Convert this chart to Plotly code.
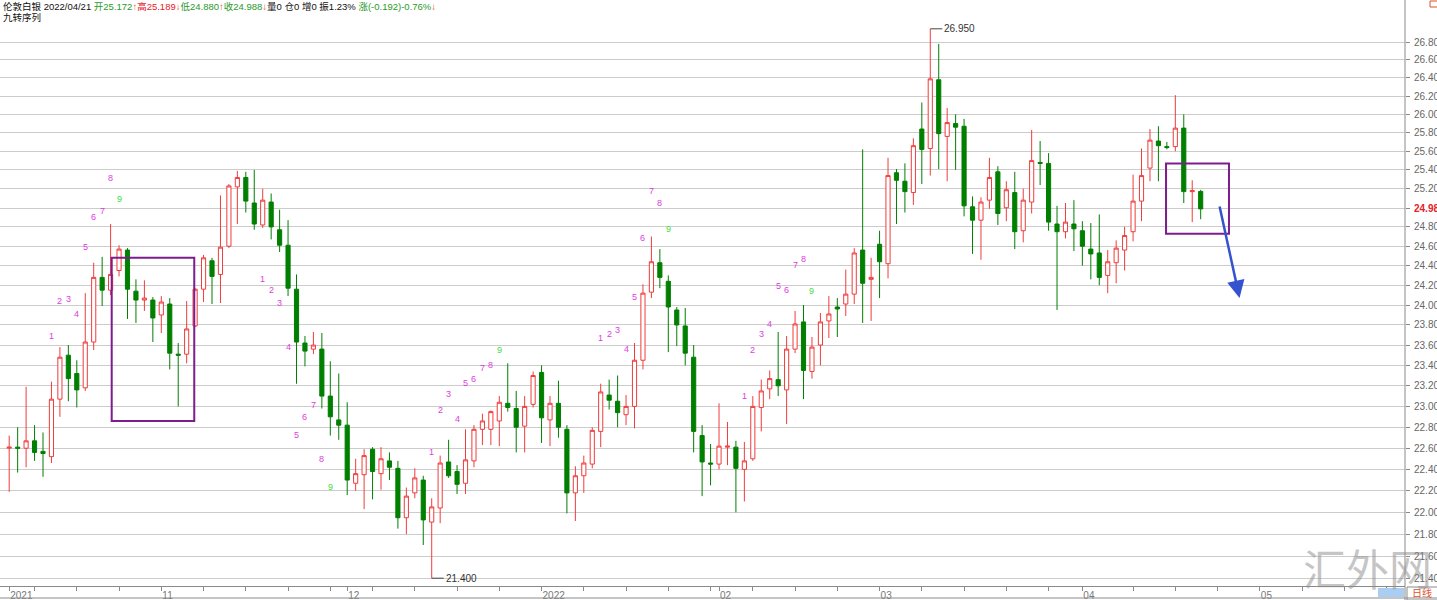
"""London silver daily candles with TD sequential (九转序列) counts."""

import math

import plotly.graph_objects as go

# daily bars, 2021-10 .. 2022-04-21
opens = [
    22.60, 22.61, 22.60, 22.67, 22.57, 22.52, 23.07, 23.50, 23.32, 23.18,
    23.63, 24.28, 24.15, 24.35, 24.56, 24.14, 24.05, 24.05, 23.90, 24.01,
    23.51, 23.51, 23.79, 24.16, 24.45, 24.31, 24.60, 25.22, 25.32, 25.05,
    24.82, 25.06, 24.77, 24.61, 24.16, 23.62, 23.56, 23.56, 23.10, 22.87,
    22.82, 22.27, 22.35, 22.59, 22.36, 22.48, 22.41, 21.95, 22.18, 22.30,
    21.91, 22.04, 22.47, 22.38, 22.27, 22.48, 22.78, 22.78, 22.86, 23.03,
    22.98, 22.81, 23.02, 23.33, 22.87, 23.03, 22.78, 22.18, 22.34, 22.45,
    22.76, 23.11, 23.05, 22.92, 23.00, 23.45, 24.13, 24.43, 24.24, 23.95,
    23.79, 23.48, 22.72, 22.46, 22.45, 22.61, 22.61, 22.40, 22.50, 22.99,
    23.17, 23.26, 23.16, 23.56, 23.83, 23.34, 23.60, 23.84, 23.98, 24.01,
    24.11, 24.56, 24.26, 24.62, 24.42, 25.37, 25.28, 25.16, 25.84, 25.63,
    26.38, 25.76, 25.90, 25.87, 25.01, 24.87, 25.08, 25.38, 25.00, 25.16,
    24.76, 25.06, 25.48, 25.47, 24.83, 24.75, 24.83, 24.76, 24.57, 24.53,
    24.30, 24.43, 24.56, 24.75, 25.07, 25.42, 25.71, 25.65, 25.65, 25.85,
    25.17, 25.172,
]
highs = [
    22.72, 22.80, 23.19, 22.82, 22.75, 23.24, 23.58, 23.60, 23.45, 24.12,
    24.43, 24.49, 24.83, 24.61, 24.58, 24.26, 24.25, 24.08, 24.09, 24.07,
    23.62, 24.04, 24.17, 24.51, 24.48, 25.13, 25.25, 25.39, 25.38, 25.40,
    25.20, 25.15, 24.98, 24.87, 24.31, 23.69, 23.73, 23.72, 23.44, 23.32,
    23.04, 22.50, 22.59, 22.61, 22.61, 22.56, 22.48, 22.23, 22.41, 22.34,
    22.13, 22.53, 22.68, 22.44, 22.78, 22.82, 22.93, 22.96, 23.10, 23.42,
    23.15, 23.10, 23.34, 23.40, 23.10, 23.25, 22.82, 22.43, 22.53, 22.80,
    23.22, 23.26, 23.30, 23.11, 23.62, 24.21, 24.70, 24.57, 24.30, 23.98,
    23.97, 23.60, 22.82, 22.64, 23.03, 22.85, 22.67, 22.66, 23.10, 23.26,
    23.35, 23.73, 23.69, 23.94, 24.00, 23.68, 23.92, 24.09, 24.07, 24.36,
    24.58, 25.62, 24.48, 24.76, 25.53, 25.41, 25.47, 25.74, 26.13, 26.95,
    26.78, 26.07, 26.00, 25.95, 25.12, 25.11, 25.53, 25.44, 25.28, 25.38,
    25.20, 25.83, 25.71, 25.58, 25.02, 25.05, 25.08, 24.86, 24.84, 24.93,
    24.56, 24.66, 24.80, 25.35, 25.63, 25.84, 25.87, 25.70, 26.21, 26.00,
    25.29, 25.189,
]
lows = [
    22.19, 22.37, 22.42, 22.48, 22.33, 22.46, 22.90, 23.05, 22.99, 23.15,
    23.55, 23.99, 24.10, 24.29, 23.86, 23.82, 23.94, 23.63, 23.72, 23.36,
    23.00, 23.42, 23.78, 24.03, 24.01, 24.02, 24.58, 24.83, 24.95, 24.77,
    24.79, 24.67, 24.54, 24.09, 23.22, 23.39, 23.51, 22.98, 22.72, 22.68,
    22.16, 22.20, 22.03, 22.12, 22.21, 22.30, 21.85, 21.80, 22.13, 21.70,
    21.40, 21.90, 22.32, 22.17, 22.17, 22.42, 22.63, 22.63, 22.62, 22.95,
    22.56, 22.56, 22.99, 22.65, 22.62, 22.70, 21.99, 21.92, 22.18, 22.41,
    22.61, 22.97, 22.80, 22.82, 22.79, 23.36, 24.07, 24.17, 23.53, 23.59,
    23.40, 22.56, 22.15, 22.25, 22.40, 22.44, 22.00, 22.10, 22.48, 22.76,
    23.07, 23.10, 22.83, 23.52, 23.07, 23.27, 23.40, 23.67, 23.68, 23.89,
    24.01, 23.82, 23.84, 24.07, 24.27, 24.83, 24.95, 25.03, 25.25, 25.34,
    25.41, 25.28, 25.40, 24.91, 24.52, 24.46, 24.99, 24.82, 24.86, 24.57,
    24.64, 24.94, 25.24, 24.76, 23.95, 24.68, 24.55, 24.40, 24.26, 24.20,
    24.12, 24.22, 24.35, 24.65, 24.86, 25.28, 25.28, 25.62, 25.60, 25.05,
    24.85, 24.880,
]
closes = [
    22.61, 22.60, 22.67, 22.56, 22.55, 23.07, 23.48, 23.27, 23.16, 23.63,
    24.28, 24.15, 24.31, 24.57, 24.16, 24.05, 24.07, 23.87, 24.03, 23.52,
    23.50, 23.76, 24.16, 24.48, 24.29, 24.59, 25.23, 25.32, 25.07, 24.83,
    25.08, 24.80, 24.61, 24.17, 23.63, 23.54, 23.60, 23.10, 22.90, 22.82,
    22.30, 22.36, 22.53, 22.38, 22.50, 22.42, 21.95, 22.15, 22.32, 21.93,
    22.05, 22.46, 22.34, 22.26, 22.49, 22.78, 22.86, 22.95, 23.04, 22.99,
    22.80, 23.00, 23.30, 22.89, 23.03, 22.80, 22.18, 22.34, 22.46, 22.77,
    23.14, 23.06, 22.94, 23.00, 23.45, 24.12, 24.44, 24.28, 23.98, 23.80,
    23.52, 22.76, 22.47, 22.45, 22.62, 22.62, 22.41, 22.48, 23.00, 23.15,
    23.27, 23.20, 23.56, 23.81, 23.35, 23.58, 23.83, 23.91, 23.96, 24.11,
    24.53, 24.22, 24.28, 24.44, 25.34, 25.29, 25.17, 25.66, 25.62, 26.39,
    25.79, 25.91, 25.86, 25.02, 24.87, 25.06, 25.32, 24.94, 25.19, 24.75,
    25.08, 25.50, 25.47, 24.85, 24.75, 24.85, 24.78, 24.60, 24.52, 24.28,
    24.44, 24.58, 24.71, 25.07, 25.34, 25.72, 25.66, 25.64, 25.85, 25.17,
    25.18, 24.988,
]

# bottom axis: month starts and weekly marks (bar index)
month_ticks = [0, 18, 40, 63, 84, 103, 127, 148]
month_labels = ["2021", "11", "12", "2022", "02", "03", "04", "05"]
week_ticks = [3, 8, 13, 23, 28, 33, 38, 43, 48, 53, 58, 68, 73, 78, 83, 88,
              93, 98, 108, 113, 118, 123, 133, 138, 143, 153, 158, 163]

# right axis
price_ticks = [21.4, 21.6, 21.8, 22.0, 22.2, 22.4, 22.6, 22.8, 23.0, 23.2,
               23.4, 23.6, 23.8, 24.0, 24.2, 24.4, 24.6, 24.8, 24.988, 25.2,
               25.4, 25.6, 25.8, 26.0, 26.2, 26.4, 26.6, 26.8]
price_labels = ["21.400", "21.600", "21.800", "22.000", "22.200", "22.400",
                "22.600", "22.800", "23.000", "23.200", "23.400", "23.600",
                "23.800", "24.000", "24.200", "24.400", "24.600", "24.800",
                "<span style='color:#e8202a'><b>24.988</b></span>", "25.200",
                "25.400", "25.600", "25.800", "26.000", "26.200", "26.400",
                "26.600", "26.800"]

# TD sequential counts: bar index -> count
td_up_bars = [5, 6, 7, 8, 9, 10, 11, 12, 13,
              50, 51, 52, 53, 54, 55, 56, 57, 58,
              70, 71, 72, 73, 74, 75, 76, 77, 78,
              87, 88, 89, 90, 91, 92, 93, 94, 95]
td_up_counts = [1, 2, 3, 4, 5, 6, 7, 8, 9] * 4
td_down_bars = [30, 31, 32, 33, 34, 35, 36, 37, 38]
td_down_counts = [1, 2, 3, 4, 5, 6, 7, 8, 9]

header = (
    "伦敦白银 2022/04/21 "
    "<span style='color:#2a9a2a'>开25.172</span><span style='color:#e0502a'>↑</span>"
    "<span style='color:#e8202a'>高25.189</span><span style='color:#e0502a'>↓</span>"
    "<span style='color:#2a9a2a'>低24.880</span><span style='color:#e0502a'>↑</span>"
    "<span style='color:#2a9a2a'>收24.988</span><span style='color:#e0502a'>↓</span>"
    "量0 仓0 增0 振1.23% "
    "<span style='color:#2a9a2a'>涨(-0.192)-0.76%</span><span style='color:#e0502a'>↓</span>"
)

RED = "#f03c3c"
GREEN = "#007f00"
PURPLE = "#7d1d8d"
FONT = "Liberation Sans, Noto Sans CJK SC, sans-serif"

# plot area in pixels: x 0..1405, y 20..586
W, H, L, R, T, B = 1437, 600, 0, 32, 20, 14


def px_x(p):
    return (p - L) / (W - L - R)


def px_y(p):
    return (H - B - p) / (H - T - B)


x = list(range(len(closes)))

fig = go.Figure()
fig.add_trace(
    go.Candlestick(
        x=x,
        open=opens,
        high=highs,
        low=lows,
        close=closes,
        increasing=dict(line=dict(color=RED, width=1), fillcolor="white"),
        decreasing=dict(line=dict(color=GREEN, width=1), fillcolor=GREEN),
        whiskerwidth=0,
        hoverinfo="skip",
        showlegend=False,
    )
)

# annotations on a log axis take log10 positions
annotations = []
for i, n in zip(td_up_bars, td_up_counts):
    annotations.append(dict(
        x=i, y=math.log10(highs[i]), yshift=46, text=str(n), showarrow=False,
        font=dict(family=FONT, size=9, color="#44dd44" if n == 9 else "#dd3ddd"),
    ))
for i, n in zip(td_down_bars, td_down_counts):
    annotations.append(dict(
        x=i, y=math.log10(lows[i]), yshift=-51, text=str(n), showarrow=False,
        font=dict(family=FONT, size=9, color="#44dd44" if n == 9 else "#dd3ddd"),
    ))

# highest / lowest markers
hi = highs.index(max(highs))
lo = lows.index(min(lows))
for i, v in ((hi, highs[hi]), (lo, lows[lo])):
    annotations.append(dict(
        x=i, y=math.log10(v), ax=12, ay=0, text=f"{v:.3f}", showarrow=True,
        arrowhead=0, arrowwidth=1, arrowcolor="#444", xanchor="left",
        font=dict(family=FONT, size=10, color="#333"),
    ))

# forecast arrow
annotations.append(dict(
    x=145.6, y=math.log10(24.07), ax=143.2, ay=math.log10(25.03),
    axref="x", ayref="y", text="", showarrow=True, arrowhead=2,
    arrowsize=1.4, arrowwidth=2.5, arrowcolor="#3552cf",
))

annotations += [
    dict(xref="paper", yref="paper", x=px_x(1), y=px_y(6), xanchor="left",
         yanchor="middle", text=header, showarrow=False,
         font=dict(family=FONT, size=9.5, color="#111")),
    dict(xref="paper", yref="paper", x=px_x(1), y=px_y(18), xanchor="left",
         yanchor="middle", text="九转序列", showarrow=False,
         font=dict(family=FONT, size=9.5, color="#111")),
    dict(xref="paper", yref="paper", x=px_x(1367), y=px_y(567),
         xanchor="center", yanchor="middle", text="汇外网", showarrow=False,
         font=dict(family="Noto Sans CJK SC", size=43, color="rgba(140,140,140,0.5)")),
    dict(xref="paper", yref="paper", x=px_x(1422), y=px_y(593),
         xanchor="center", yanchor="middle", text="日线", showarrow=False,
         font=dict(family=FONT, size=10, color="#e0502a")),
]

# shapes on a log axis take plain prices
shapes = [
    dict(type="rect", x0=12.13, x1=21.9, y0=22.86, y1=24.48,
         line=dict(color=PURPLE, width=2)),
    dict(type="rect", x0=136.9, x1=144.35, y0=24.73, y1=25.47,
         line=dict(color=PURPLE, width=2)),
    # right axis line and bottom frame
    dict(type="line", xref="paper", yref="paper", x0=1, x1=1, y0=px_y(600), y1=px_y(0),
         line=dict(color="#8a8a8a", width=1)),
    dict(type="line", xref="paper", yref="paper", x0=0, x1=px_x(W), y0=px_y(598),
         y1=px_y(598), line=dict(color="#8a8a8a", width=1)),
    dict(type="rect", xref="paper", yref="paper", x0=px_x(1378), x1=px_x(1404),
         y0=px_y(597), y1=px_y(588), fillcolor="#aacdf2", line=dict(width=0)),
    dict(type="rect", xref="paper", yref="paper", x0=px_x(1407), x1=px_x(1440),
         y0=px_y(600), y1=px_y(587), line=dict(color="#8a8a8a", width=1)),
    dict(type="rect", xref="paper", yref="paper", x0=px_x(1430), x1=px_x(1440),
         y0=px_y(7), y1=px_y(1), line=dict(color="#e0502a", width=1)),
]

fig.update_layout(
    width=W,
    height=H,
    margin=dict(l=L, r=R, t=T, b=B, autoexpand=False),
    paper_bgcolor="white",
    plot_bgcolor="white",
    font=dict(family=FONT),
    showlegend=False,
    annotations=annotations,
    shapes=shapes,
    xaxis=dict(
        range=[-1.089, 165.18],
        rangeslider=dict(visible=False),
        automargin=False,
        showgrid=False,
        zeroline=False,
        showline=True,
        linecolor="#8a8a8a",
        ticks="outside",
        ticklen=4,
        tickcolor="#8a8a8a",
        tickvals=month_ticks,
        ticktext=month_labels,
        ticklabelposition="outside right",
        tickfont=dict(size=10, color="#777"),
        minor=dict(tickvals=week_ticks, ticks="outside", ticklen=4, tickcolor="#8a8a8a"),
    ),
    yaxis=dict(
        type="log",
        side="right",
        range=[math.log10(21.33), math.log10(27.05)],
        automargin=False,
        tickvals=price_ticks,
        ticktext=price_labels,
        showgrid=True,
        gridcolor="#cccccc",
        gridwidth=1,
        zeroline=False,
        ticks="outside",
        ticklen=4,
        tickcolor="#8a8a8a",
        ticklabelstandoff=2,
        tickfont=dict(size=10, color="#666"),
    ),
)

# the page's default 8px body margin would push the chart off its frame
fig.write_html(
    "out.html",
    config={"displayModeBar": False},
    post_script="document.body.style.margin = '0';",
)
